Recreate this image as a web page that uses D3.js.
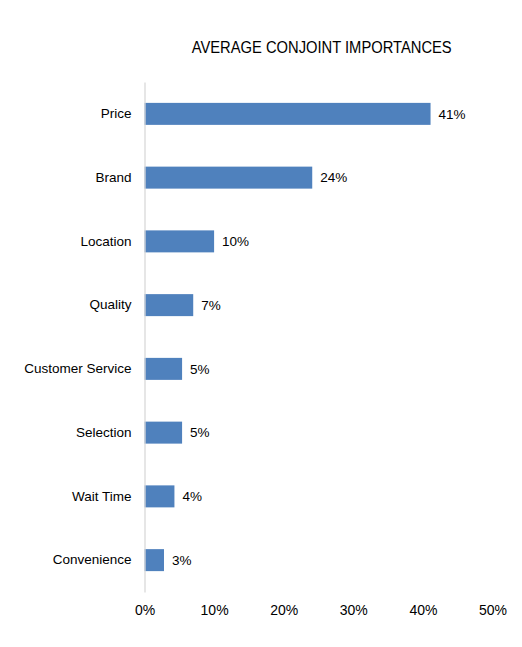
<!DOCTYPE html>
<html>
<head>
<meta charset="utf-8">
<script src="https://cdn.jsdelivr.net/npm/d3@7"></script>
<style>
  html, body { margin: 0; padding: 0; background: #fff; }
  svg { display: block; }
  text { font-family: "Liberation Sans", Arial, sans-serif; fill: #000; }
</style>
</head>
<body>
<svg id="chart" width="522" height="647"></svg>
<script>
const categories = ["Price", "Brand", "Location", "Quality", "Customer Service", "Selection", "Wait Time", "Convenience"];
const values = [0.411, 0.241, 0.10, 0.07, 0.054, 0.054, 0.043, 0.028];
const valueLabels = ["41%", "24%", "10%", "7%", "5%", "5%", "4%", "3%"];
const xTicks = [0, 0.1, 0.2, 0.3, 0.4, 0.5];
const title = "AVERAGE CONJOINT IMPORTANCES";

const svg = d3.select("#chart");
const margin = { left: 144.5, right: 29.5, top: 82, bottom: 55 };
const W = 522, H = 647;

const x = d3.scaleLinear().domain([0, 0.5]).range([margin.left, W - margin.right]);
const y = d3.scaleBand().domain(categories).range([margin.top, H - margin.bottom]).paddingInner(0.655).paddingOuter(0.3275);

// title
svg.append("text")
  .attr("x", 321.7).attr("y", 53)
  .attr("text-anchor", "middle")
  .attr("font-size", 16)
  .attr("textLength", 260)
  .attr("lengthAdjust", "spacingAndGlyphs")
  .text(title);

// bars
svg.append("g").selectAll("rect")
  .data(categories)
  .join("rect")
  .attr("x", x(0))
  .attr("y", d => y(d))
  .attr("width", (d, i) => x(values[i]) - x(0))
  .attr("height", y.bandwidth())
  .attr("fill", "#4F81BD");

// value labels
svg.append("g").selectAll("text")
  .data(categories)
  .join("text")
  .attr("x", (d, i) => x(values[i]) + 8)
  .attr("y", d => y(d) + y.bandwidth() / 2)
  .attr("dy", "0.35em")
  .attr("font-size", 13.5)
  .text((d, i) => valueLabels[i]);

// y axis line + labels
const yAxis = d3.axisLeft(y).tickSize(0).tickPadding(13);
const gy = svg.append("g").attr("transform", `translate(${x(0)},0)`).call(yAxis);
gy.select(".domain").attr("stroke", "#D9D9D9").attr("stroke-width", 1.3);
gy.selectAll("text").attr("font-size", 13.5).attr("font-family", "'Liberation Sans', Arial, sans-serif").attr("fill", "#000");

// x axis tick labels (no line)
const xAxis = d3.axisBottom(x).tickValues(xTicks).tickFormat(d3.format(".0%")).tickSize(0).tickPadding(0);
const gx = svg.append("g").attr("transform", `translate(0,${H - margin.bottom + 13})`).call(xAxis);
gx.select(".domain").remove();
gx.selectAll("text").attr("font-size", 14).attr("font-family", "'Liberation Sans', Arial, sans-serif").attr("fill", "#000");
</script>
</body>
</html>
